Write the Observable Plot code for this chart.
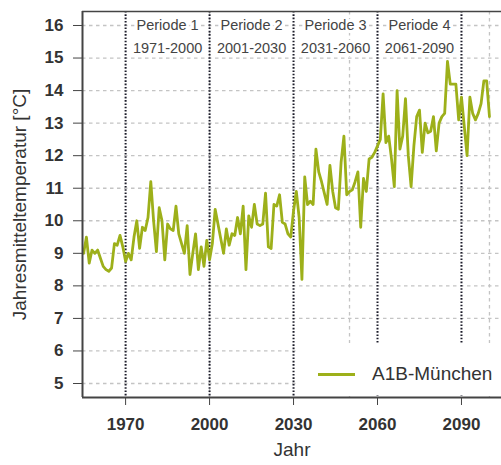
<!DOCTYPE html>
<html><head><meta charset="utf-8">
<script src="https://cdn.jsdelivr.net/npm/d3@7"></script>
<script src="https://cdn.jsdelivr.net/npm/@observablehq/plot@0.6"></script>
<style>
body{margin:0;background:#fff;font-family:"Liberation Sans",Arial,sans-serif;}
#wrap{position:relative;width:501px;height:465px;overflow:hidden;}
#legend{position:absolute;left:297px;top:343px;width:204px;height:52px;background:#fff;}
#legend .sw{position:absolute;left:21px;top:30px;width:37px;height:3px;}
#legend .lb{position:absolute;left:75px;top:20px;font-size:19px;color:#333;line-height:22px;white-space:nowrap;}
</style></head><body>
<div id="wrap"><div id="chart"></div><div id="legend"><div class="sw"></div><div class="lb"></div></div></div>
<script>
// --- data ---
const firstYear = 1955;
const temps = [
  9.0, 9.5, 8.7, 9.1, 9.0,
  9.1, 8.85, 8.6, 8.5, 8.45, 8.55, 9.3, 9.25, 9.55, 9.2,
  8.75, 9.0, 8.8, 9.5, 10.0, 9.15, 9.8, 9.7, 10.1, 11.2,
  10.0, 9.05, 10.4, 10.0, 8.8, 9.9, 9.75, 9.7, 10.45, 9.6,
  9.3, 9.0, 9.85, 8.35, 9.0, 9.6, 8.5, 9.2, 8.6, 9.4,
  8.8, 9.3, 10.35, 9.9, 9.45, 9.0, 9.75, 9.25, 9.6, 9.55,
  10.1, 9.6, 10.45, 8.5, 10.15, 9.8, 10.5, 9.9, 9.85, 9.9,
  10.85, 9.2, 9.15, 10.5, 10.45, 10.8, 9.95, 9.9, 9.6, 9.5,
  10.3, 10.9, 10.1, 8.2, 11.35, 10.5, 10.6, 10.5, 12.2, 11.5,
  11.2, 10.85, 10.5, 11.7, 10.9, 10.4, 10.35, 11.8, 12.6, 10.8,
  10.9, 10.95, 11.2, 11.5, 9.8, 11.3, 10.9, 11.9, 11.95, 12.1,
  12.3, 12.5, 13.9, 12.4, 12.6, 11.9, 11.05, 14.0, 12.2, 12.6,
  13.75, 12.0, 11.05, 12.3, 13.2, 13.4, 12.1, 13.0, 12.7, 12.75,
  13.2, 12.15, 13.0, 13.2, 13.3, 14.9, 14.2, 14.2, 14.2, 13.1,
  13.8, 12.9, 12.0, 13.8, 13.3, 13.1, 13.3, 13.6, 14.3, 14.3, 13.2
];
const seriesName = "A1B-München";
const yTicks = [5, 6, 7, 8, 9, 10, 11, 12, 13, 14, 15, 16];
const xTicks = [1970, 2000, 2030, 2060, 2090];
const periodBounds = [1970, 2000, 2030, 2060, 2090];
const gridYears = [2000, 2050, 2100];
const periodNames = ["Periode 1", "Periode 2", "Periode 3", "Periode 4"];
const periodRanges = ["1971-2000", "2001-2030", "2031-2060", "2061-2090"];
const periodMids = [1985, 2015, 2045, 2075];
const xLabel = "Jahr";
const yLabel = "Jahresmitteltemperatur [°C]";

const xDomain = [1954.6, 2104.3];
const yDomain = [4.57, 16.43];
const lineColor = "#9db01a";
const textColor = "#333";

const data = temps.map((t, i) => ({year: firstYear + i, temp: t}));
const periods = periodNames.map((n, i) => ({name: n, range: periodRanges[i], mid: periodMids[i]}));

const chart = Plot.plot({
  width: 501, height: 465,
  marginLeft: 82, marginRight: 0, marginTop: 11, marginBottom: 68,
  x: {domain: xDomain},
  y: {domain: yDomain},
  style: {fontFamily: "'Liberation Sans', Arial, sans-serif", background: "white", color: textColor},
  marks: [
    Plot.ruleY(yTicks, {stroke: "#c4c4c4", strokeWidth: 1.3, strokeDasharray: "3.5,3.5"}),
    Plot.ruleX(gridYears, {stroke: "#c4c4c4", strokeWidth: 1.3, strokeDasharray: "3.5,3.5"}),
    Plot.ruleX(periodBounds, {stroke: "#1c1c2a", strokeWidth: 2, strokeDasharray: "1.6,1.7"}),
    Plot.line(data, {x: "year", y: "temp", stroke: lineColor, strokeWidth: 2.8, strokeLinejoin: "round"}),
    Plot.text(periods, {x: "mid", y: () => 16, text: "name", fontSize: 14.5, fill: "#444", stroke: "white", strokeWidth: 6, paintOrder: "stroke"}),
    Plot.text(periods, {x: "mid", y: () => 15.3, text: "range", fontSize: 14.5, fill: "#444", stroke: "white", strokeWidth: 6, paintOrder: "stroke"}),
    Plot.axisY({ticks: yTicks, tickSize: 9, tickPadding: 10, fontSize: 17, fontWeight: "bold", label: null, stroke: "#444"}),
    Plot.axisX({ticks: xTicks, tickFormat: d => String(d), tickSize: 8, tickPadding: 12, fontSize: 17, fontWeight: "bold", label: null, stroke: "#444"}),
    Plot.ruleX([xDomain[0]], {stroke: "#444", strokeWidth: 2}),
    Plot.ruleY([yDomain[0]], {stroke: "#444", strokeWidth: 2}),
    Plot.ruleY([yDomain[1]], {stroke: "#444", strokeWidth: 1.5}),
    Plot.text([xLabel], {frameAnchor: "bottom", dy: 58, text: d => d, fontSize: 19, fill: textColor}),
    Plot.text([yLabel], {frameAnchor: "left", dx: -63, rotate: -90, textAnchor: "middle", text: d => d, fontSize: 19, fill: textColor})
  ]
});
document.getElementById("chart").appendChild(chart);
document.querySelector("#legend .sw").style.background = lineColor;
document.querySelector("#legend .lb").textContent = seriesName;
</script>
</body></html>
